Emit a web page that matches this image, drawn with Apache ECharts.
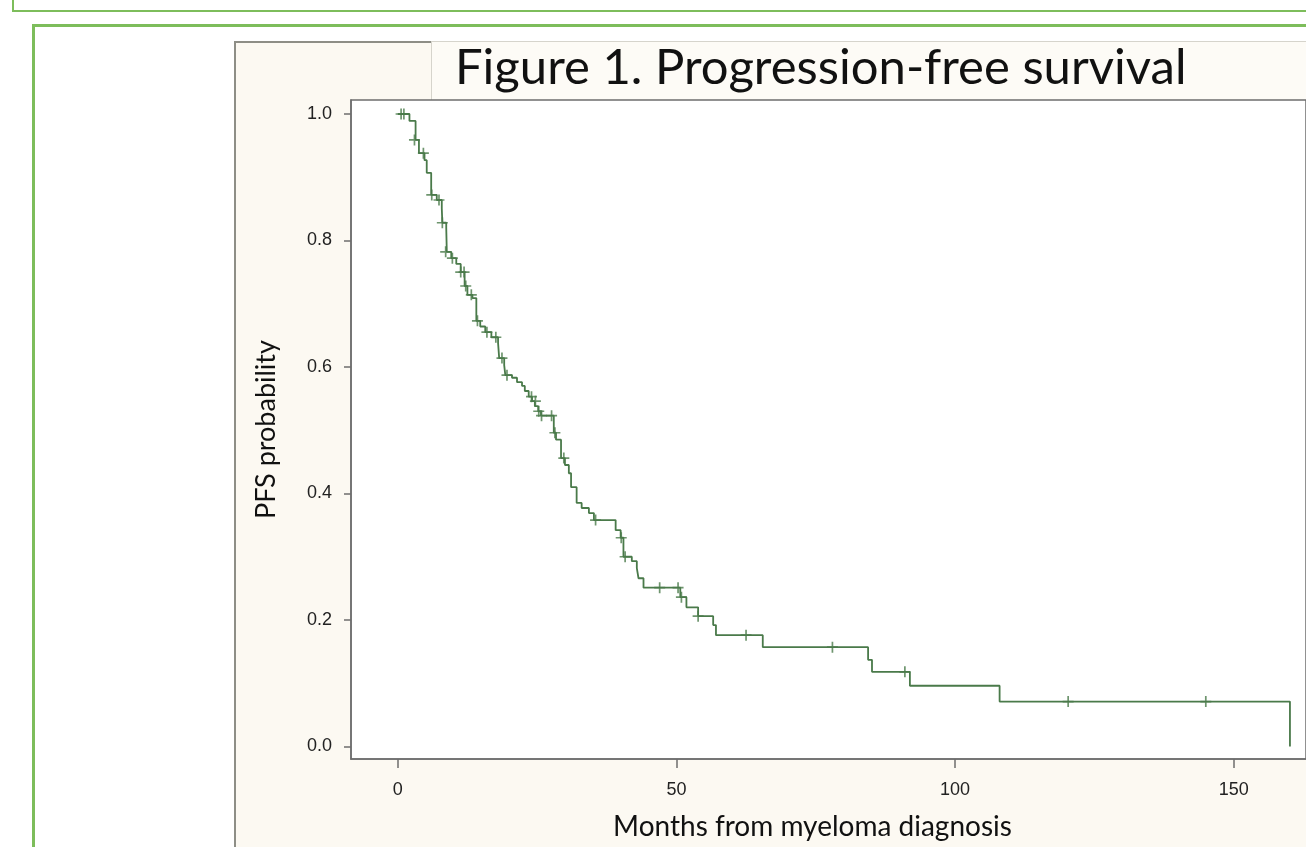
<!DOCTYPE html>
<html>
<head>
<meta charset="utf-8">
<script src="https://cdn.jsdelivr.net/npm/echarts@6/dist/echarts.min.js"></script>
<style>
  html, body { margin: 0; padding: 0; background: #fff; overflow: hidden; }
  .frame { position: absolute; box-sizing: border-box; }
  #outer1 { left: 12px; top: -20px; width: 1400px; height: 32px; border: 2px solid #7dbd5b; }
  #outer2 { left: 32px; top: 24px; width: 1400px; height: 900px; border: 3px solid #7dbd5b; }
  #panel { left: 234px; top: 41px; width: 1200px; height: 900px; border: 2px solid #8e8e86; background: #fcf9f2; }
  #titlebox { left: 431px; top: 41px; width: 1000px; height: 60px; border: 1px solid #d6d4cc; background: #fdfbf6; }
  #chart { position: absolute; left: 0; top: 0; width: 1306px; height: 847px; }
</style>
</head>
<body>
<div class="frame" id="outer1"></div>
<div class="frame" id="outer2"></div>
<div class="frame" id="panel"></div>
<div class="frame" id="titlebox"></div>
<div id="chart"></div>
<script>
// Kaplan-Meier steps: time (months) at which the curve drops, and the new level
const stepTimes = [0, 2.1, 3.2, 3.8, 4.8, 5.2, 6.0, 7.0, 7.9, 8.0, 8.7, 8.8, 9.6, 10.5, 11.3, 12.0, 12.5, 13.4,
  14.1, 14.8, 15.7, 16.8, 18.0, 18.2, 19.1, 19.3, 20.5, 21.4, 22.3, 22.8, 23.5, 24.1, 24.6, 25.2, 25.7,
  28.0, 28.4, 29.3, 30.0, 30.7, 31.1, 32.1, 33.0, 34.3, 35.2, 39.1, 40.0, 40.5, 42.0, 42.9, 43.2, 44.1,
  50.7, 51.8, 53.9, 56.6, 57.1, 65.5, 84.4, 85.1, 91.9, 108.0, 160.1];
const stepSurv = [1.0, 0.989, 0.959, 0.938, 0.927, 0.907, 0.872, 0.864, 0.851, 0.828, 0.820, 0.782, 0.772, 0.763, 0.750, 0.728, 0.714, 0.709,
  0.673, 0.664, 0.655, 0.647, 0.638, 0.614, 0.603, 0.587, 0.583, 0.576, 0.570, 0.562, 0.553, 0.546, 0.538, 0.530, 0.523,
  0.496, 0.485, 0.456, 0.445, 0.432, 0.410, 0.385, 0.377, 0.369, 0.358, 0.342, 0.330, 0.300, 0.293, 0.282, 0.266, 0.251,
  0.236, 0.220, 0.206, 0.192, 0.176, 0.157, 0.137, 0.118, 0.096, 0.071, 0.0];

// censored observations
const censorTimes = [0.6, 1.1, 3.0, 4.6, 6.1, 7.4, 8.0, 8.6, 9.8, 11.3, 11.9, 12.2, 13.2, 14.3, 16.0, 17.6, 18.7, 19.6,
  24.0, 24.7, 25.3, 25.8, 27.6, 28.2, 29.8, 35.5, 40.1, 40.8, 47.0, 50.3, 50.9, 53.9, 62.5, 78.0, 91.0, 120.3, 145.0];
const censorSurv = [1.0, 1.0, 0.959, 0.938, 0.872, 0.864, 0.828, 0.782, 0.772, 0.750, 0.750, 0.728, 0.714, 0.673, 0.655, 0.647, 0.614, 0.587,
  0.553, 0.546, 0.530, 0.523, 0.523, 0.496, 0.456, 0.358, 0.330, 0.300, 0.251, 0.251, 0.236, 0.206, 0.176, 0.157, 0.118, 0.071, 0.071];

const xTicks = [0, 50, 100, 150];
const yTicks = [0, 0.2, 0.4, 0.6, 0.8, 1.0];

const lineColor = "#4a7a4a";
const axisColor = "#6e6e6e";

const chart = echarts.init(document.getElementById("chart"));
chart.setOption({
  animation: false,
  graphic: [
    {
      type: "text",
      left: 455,
      top: 44,
      style: {
        text: "Figure 1. Progression-free survival",
        font: "49px Lato",
        fill: "#111"
      }
    }
  ],
  grid: {
    left: 351,
    top: 100,
    right: -5,
    bottom: 88,
    show: true,
    backgroundColor: "#fff",
    borderColor: axisColor,
    borderWidth: 1.5
  },
  xAxis: {
    type: "value",
    min: -8.39,
    max: 162.98,
    splitLine: { show: false },
    axisLine: { onZero: false, lineStyle: { color: axisColor, width: 1.5 } },
    axisTick: { customValues: xTicks, length: 9, lineStyle: { color: axisColor, width: 1.5 } },
    axisLabel: {
      customValues: xTicks,
      margin: 22,
      fontSize: 18,
      color: "#222",
      fontFamily: "Liberation Sans"
    },
    name: "Months from myeloma diagnosis",
    nameLocation: "middle",
    nameGap: 54,
    nameTextStyle: { fontFamily: "Lato", fontSize: 28, color: "#111", padding: [0, 32, 0, 0] }
  },
  yAxis: {
    type: "value",
    min: -0.0198,
    max: 1.0221,
    splitLine: { show: false },
    axisLine: { onZero: false, lineStyle: { color: axisColor, width: 1.5 } },
    axisTick: { customValues: yTicks, length: 7, lineStyle: { color: axisColor, width: 1.5 } },
    axisLabel: {
      customValues: yTicks,
      margin: 19,
      fontSize: 18,
      color: "#222",
      fontFamily: "Liberation Sans",
      formatter: (v) => v.toFixed(1)
    },
    name: "PFS probability",
    nameLocation: "middle",
    nameRotate: 90,
    nameGap: 71,
    nameTextStyle: { fontFamily: "Lato", fontSize: 27, color: "#111" }
  },
  series: [
    {
      type: "line",
      step: "end",
      symbol: "none",
      data: stepTimes.map((t, i) => [t, stepSurv[i]]),
      lineStyle: { color: lineColor, width: 1.8 }
    },
    {
      type: "scatter",
      symbol: "path://M5,0L5,10M0,5L10,5",
      symbolSize: 11,
      data: censorTimes.map((t, i) => [t, censorSurv[i]]),
      itemStyle: { color: lineColor, borderColor: lineColor, borderWidth: 1.7 }
    }
  ]
});
</script>
</body>
</html>
